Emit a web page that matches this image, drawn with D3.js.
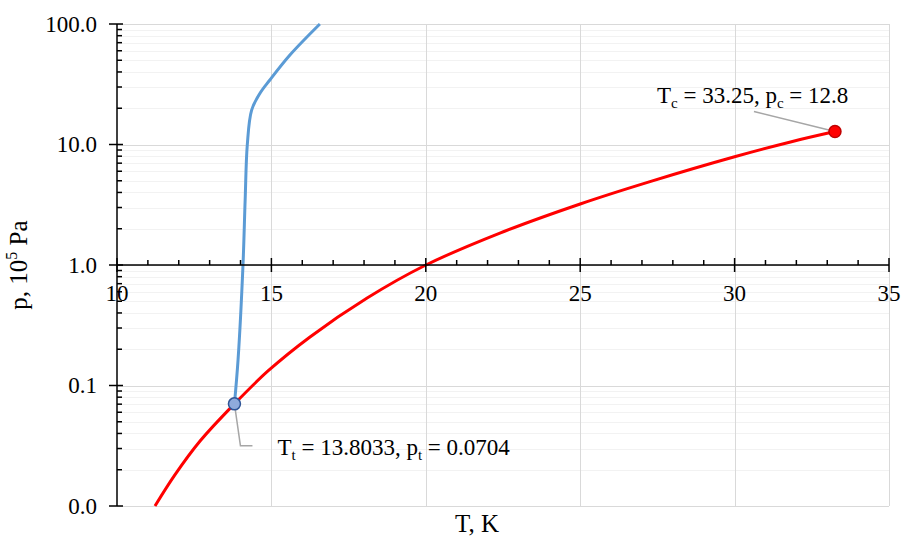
<!DOCTYPE html>
<html>
<head>
<meta charset="utf-8">
<script src="https://cdn.jsdelivr.net/npm/d3@7"></script>
<style>
body { margin: 0; background: #fff; }
svg text { font-family: "Liberation Serif", "Times New Roman", serif; }
.grid-minor { stroke: #f2f2f2; stroke-width: 1; }
.grid-major { stroke: #d9d9d9; stroke-width: 1; }
.axis-line { stroke: #000; stroke-width: 1.5; }
</style>
</head>
<body>
<div class="chart-wrapper"></div>
<script>
// saturation (vapour pressure) curve
const satT = [11.23, 11.88, 12.69, 13.8033, 14.89, 16.25, 18.1, 19.97, 22.4, 25.0, 27.26, 30.0, 31.81, 33.25]
const satP = [0.01, 0.0182, 0.0346, 0.0704, 0.132, 0.253, 0.532, 0.99, 1.84, 3.21, 4.92, 7.91, 10.5, 12.8]

// melting curve
const meltT = [13.8033, 13.92, 14.08, 14.15, 14.22, 14.36, 14.63, 14.95, 15.6, 16.57]
const meltP = [0.0704, 0.163, 1.0, 3.46, 10.0, 19.3, 26.6, 34.3, 55.3, 100]

const triple = { T: 13.8033, p: 0.0704 }
const critical = { T: 33.25, p: 12.8 }

const tTicks = [10, 15, 20, 25, 30, 35]
const tMinor = [11, 12, 13, 14, 16, 17, 18, 19, 21, 22, 23, 24, 26, 27, 28, 29, 31, 32, 33, 34]
const pTicks = [0.01, 0.1, 1, 10, 100]

const width = 902
const height = 536

const x = d3.scaleLinear()
.domain([10, 35])
.range([117, 889])

const y = d3.scaleLog()
.domain([0.01, 100])
.range([506, 24])

// minor p values: 2..9 of every decade
let pMinor = []
pTicks.slice(0, -1).forEach(d => {
	for (let k = 2; k <= 9; k++) pMinor.push(d * k)
})

const svg = d3.select('.chart-wrapper')
.append('svg')
.attr('width', width)
.attr('height', height)

const grid = svg.append('g')
const lines = svg.append('g')
const axes = svg.append('g')
const labels = svg.append('g')

grid.selectAll('.grid-minor')
.data(pMinor)
.enter()
.append('line')
.attr('class', 'grid-minor')
.attr('x1', x(10))
.attr('x2', x(35))
.attr('y1', d => Math.round(y(d)) + 0.5)
.attr('y2', d => Math.round(y(d)) + 0.5)

grid.selectAll('.grid-h')
.data(pTicks)
.enter()
.append('line')
.attr('class', 'grid-major grid-h')
.attr('x1', x(10))
.attr('x2', x(35))
.attr('y1', d => Math.round(y(d)) + 0.5)
.attr('y2', d => Math.round(y(d)) + 0.5)

grid.selectAll('.grid-v')
.data(tTicks.slice(1))
.enter()
.append('line')
.attr('class', 'grid-major grid-v')
.attr('x1', d => Math.round(x(d)) + 0.5)
.attr('x2', d => Math.round(x(d)) + 0.5)
.attr('y1', y(100))
.attr('y2', y(0.01))

// y axis (left, log)
axes.append('line')
.attr('class', 'axis-line')
.attr('x1', x(10)).attr('x2', x(10))
.attr('y1', y(100)).attr('y2', y(0.01))

axes.selectAll('.ytick')
.data(pTicks)
.enter()
.append('line')
.attr('class', 'axis-line')
.attr('x1', x(10) - 8).attr('x2', x(10) + 6)
.attr('y1', d => y(d)).attr('y2', d => y(d))

axes.selectAll('.ytick-minor')
.data(pMinor)
.enter()
.append('line')
.attr('class', 'axis-line')
.attr('x1', x(10)).attr('x2', x(10) + 5)
.attr('y1', d => y(d)).attr('y2', d => y(d))

// x axis crosses at p = 1
axes.append('line')
.attr('class', 'axis-line')
.attr('x1', x(10)).attr('x2', x(35))
.attr('y1', y(1)).attr('y2', y(1))

axes.selectAll('.xtick')
.data(tTicks)
.enter()
.append('line')
.attr('class', 'axis-line')
.attr('x1', d => x(d)).attr('x2', d => x(d))
.attr('y1', y(1) - 7).attr('y2', y(1) + 7)

axes.selectAll('.xtick-minor')
.data(tMinor)
.enter()
.append('line')
.attr('class', 'axis-line')
.attr('x1', d => x(d)).attr('x2', d => x(d))
.attr('y1', y(1) - 5).attr('y2', y(1))

const fmt = d3.format('.1f')

labels.selectAll('.ylabel')
.data(pTicks)
.enter()
.append('text')
.attr('x', 97)
.attr('y', d => y(d) + 7.5)
.attr('text-anchor', 'end')
.attr('font-size', 23)
.text(d => fmt(d))

labels.selectAll('.xlabel')
.data(tTicks)
.enter()
.append('text')
.attr('x', d => x(d))
.attr('y', y(1) + 36)
.attr('text-anchor', 'middle')
.attr('font-size', 23)
.text(d => d)

labels.append('text')
.attr('x', 477)
.attr('y', 532)
.attr('text-anchor', 'middle')
.attr('font-size', 25)
.text('T, K')

const yTitle = labels.append('text')
.attr('transform', 'translate(27,' + y(1) + ') rotate(-90)')
.attr('text-anchor', 'middle')
.attr('font-size', 25)
yTitle.append('tspan').text('p, 10')
yTitle.append('tspan').attr('font-size', 16).attr('dy', -10).text('5')
yTitle.append('tspan').attr('dy', 10).text(' Pa')

const line = d3.line()
.x(d => x(d[0]))
.y(d => y(d[1]))
.curve(d3.curveCatmullRom.alpha(0.5))

lines.append('path')
.attr('d', line(d3.zip(satT, satP)))
.attr('fill', 'none')
.attr('stroke', '#ff0000')
.attr('stroke-width', 3)

lines.append('path')
.attr('d', line(d3.zip(meltT, meltP)))
.attr('fill', 'none')
.attr('stroke', '#5b9bd5')
.attr('stroke-width', 3)

// leader lines + markers
let tp = [x(triple.T), y(triple.p)]
let cp = [x(critical.T), y(critical.p)]

lines.append('polyline')
.attr('points', [tp, [tp[0] + 6, tp[1] + 42], [tp[0] + 18, tp[1] + 42]].join(' '))
.attr('fill', 'none')
.attr('stroke', '#a6a6a6')
.attr('stroke-width', 1.5)

lines.append('line')
.attr('x1', cp[0] - 81).attr('y1', cp[1] - 20)
.attr('x2', cp[0]).attr('y2', cp[1])
.attr('stroke', '#a6a6a6')
.attr('stroke-width', 1.5)

lines.append('circle')
.attr('cx', tp[0]).attr('cy', tp[1])
.attr('r', 6)
.attr('fill', '#8faadc')
.attr('stroke', '#2f5597')
.attr('stroke-width', 1.5)

lines.append('circle')
.attr('cx', cp[0]).attr('cy', cp[1])
.attr('r', 6)
.attr('fill', '#ff0000')
.attr('stroke', '#c00000')
.attr('stroke-width', 1.5)

function subLabel(px, py, sub, parts) {
	let t = labels.append('text')
	.attr('x', px)
	.attr('y', py)
	.attr('font-size', 23)
	t.append('tspan').text('T')
	t.append('tspan').attr('font-size', 15).attr('dy', 5).text(sub)
	t.append('tspan').attr('dy', -5).text(' = ' + parts[0] + ', p')
	t.append('tspan').attr('font-size', 15).attr('dy', 5).text(sub)
	t.append('tspan').attr('dy', -5).text(' = ' + parts[1])
}

subLabel(tp[0] + 43, tp[1] + 51, 't', ['13.8033', '0.0704'])
subLabel(cp[0] - 178, cp[1] - 29, 'c', ['33.25', '12.8'])
</script>
</body>
</html>
